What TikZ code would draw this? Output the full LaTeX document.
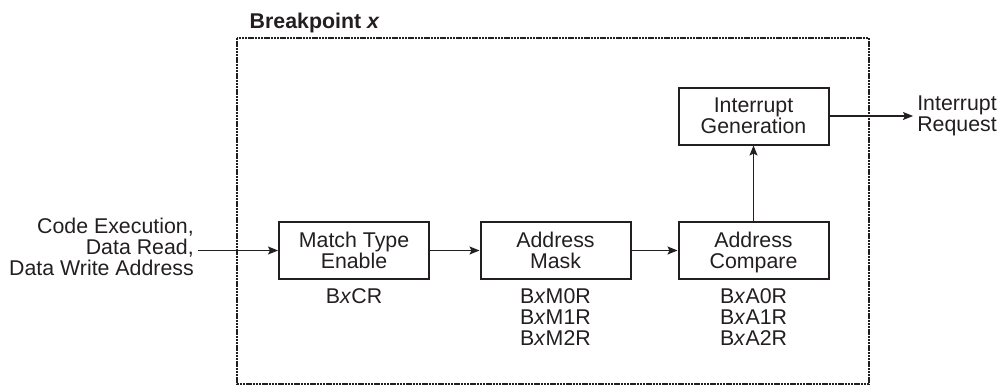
\documentclass[tikz,border=0pt]{standalone}
\usepackage{fontspec}
\setmainfont{Liberation Sans}
\usetikzlibrary{arrows.meta}
\definecolor{ink}{HTML}{231F20}

\begin{document}
\begin{tikzpicture}[x=0.75pt,y=-0.75pt,
  every node/.style={font=\fontsize{16}{15.75}\selectfont, text=ink},
  unit/.style={draw=ink, line width=1.5pt, minimum width=112.5pt, minimum height=42.75pt, align=center, inner sep=0pt, text depth=0pt},
  reg/.style={align=center, anchor=north, inner sep=0pt},
  flow/.style={-{Stealth[length=7.5pt,width=6pt,inset=1.5pt]}, line width=0.8pt, draw=ink}]
\useasboundingbox (0,0) rectangle (1005,386);
\draw[ink, line width=1.6pt, dash pattern=on 1.8pt off 0.6pt] (237,38) rectangle (869,384);
\node[anchor=base west, font=\fontsize{16}{15.75}\selectfont\bfseries] (title) at (245,28) {Breakpoint \textit{x}};
\node[unit] (match) at (354,250.5) {Match Type\\Enable};
\node[unit] (mask) at (555.5,250.5) {Address\\Mask};
\node[unit] (compare) at (753.5,250.5) {Address\\Compare};
\node[unit] (intgen) at (753.5,116) {Interrupt\\Generation};
\node[reg] (cr) at ([yshift=-6pt]match.south) {B\textit{x}CR};
\node[reg] (mregs) at ([yshift=-6pt]mask.south) {B\textit{x}M0R\\B\textit{x}M1R\\B\textit{x}M2R};
\node[reg] (aregs) at ([yshift=-6pt]compare.south) {B\textit{x}A0R\\B\textit{x}A1R\\B\textit{x}A2R};
\node[anchor=east, align=right, inner xsep=3pt, inner ysep=0pt] (addr) at (198,247) {Code Execution,\\Data Read,\\Data Write Address};
\node[anchor=west, align=left, inner xsep=3pt, inner ysep=0pt] (irq) at (913,116) {Interrupt\\Request};
\draw[flow] (addr.east |- match.west) -- (match.west);
\draw[flow] (match) -- (mask);
\draw[flow] (mask) -- (compare);
\draw[flow] (compare) -- (intgen);
\draw[flow] (intgen) -- (irq);
\end{tikzpicture}
\end{document}
